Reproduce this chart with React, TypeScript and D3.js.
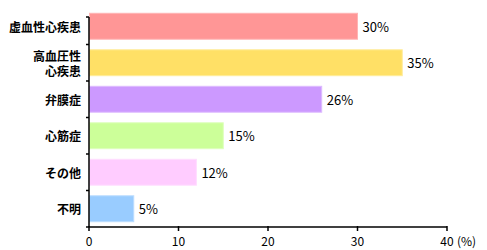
import React from "react";
import * as d3 from "d3";

const categories = ["虚血性心疾患", "高血圧性\n心疾患", "弁膜症", "心筋症", "その他", "不明"];
const values = [30, 35, 26, 15, 12, 5];
const colors = ["#FF9696", "#FFE066", "#CC99FF", "#CCFF99", "#FFCCFF", "#99CCFF"];
const strokes = ["#FFB4B4", "#FFEC99", "#DDBBFF", "#DDFFBB", "#FFDDFF", "#BBDDFF"];
const xTicks = [0, 10, 20, 30, 40];

export default function App() {
  const W = 487, H = 250;
  const x = d3.scaleLinear().domain([0, 40]).range([89, 447]);
  const y = d3.scaleBand<number>().domain(d3.range(categories.length)).range([8, 227]).paddingInner(0.29).paddingOuter(0.145);
  const step = y.step();
  const font = "'Noto Sans CJK JP', 'DejaVu Sans', sans-serif";
  const axisY = 227;
  const bounds = d3.range(1, categories.length).map((i) => y.range()[0] + step * i);
  return (
    <svg width={W} height={H} style={{ position: "absolute", left: 0, top: 0 }}>
      {values.map((v, i) => (
        <g key={i}>
          <rect x={x(0) + 0.5} y={y(i)!} width={x(v) - x(0) - 0.5} height={y.bandwidth()} fill={colors[i]} stroke={strokes[i]} strokeWidth={1} />
          <text x={x(v) + 5} y={y(i)! + y.bandwidth() / 2} dominantBaseline="central" fontFamily={font} fontSize={13} fill="#000">
            {v}%
          </text>
        </g>
      ))}
      {categories.map((c, i) => {
        const lines = c.split("\n");
        const cy = y(i)! + y.bandwidth() / 2;
        return (
          <g key={i}>
            {lines.map((l, j) => (
              <text key={j} textAnchor="end" fontFamily={font} fontSize={12} fontWeight="bold" fill="#000" x={81} y={cy + (j - (lines.length - 1) / 2) * 15.5} dominantBaseline="central">
                {l}
              </text>
            ))}
          </g>
        );
      })}
      <line x1={x(0)} x2={x(0)} y1={17} y2={axisY} stroke="#000" strokeWidth={1.5} />
      <line x1={x(0) - 3} x2={x(0)} y1={17} y2={17} stroke="#000" strokeWidth={1.5} />
      {bounds.map((b, i) => (
        <line key={i} x1={x(0) - 3} x2={x(0)} y1={b} y2={b} stroke="#000" strokeWidth={1.5} />
      ))}
      <line x1={x(0) - 3} x2={x(40)} y1={axisY} y2={axisY} stroke="#000" strokeWidth={1.5} />
      {xTicks.map((t) => (
        <g key={t}>
          <line x1={x(t)} x2={x(t)} y1={axisY - 1} y2={axisY + 4} stroke="#000" strokeWidth={1.5} />
          <text x={x(t)} y={240} textAnchor="middle" dominantBaseline="central" fontFamily={font} fontSize={12} fill="#000">
            {t}
          </text>
        </g>
      ))}
      <text x={x(40) + 10} y={240} dominantBaseline="central" fontFamily={font} fontSize={12} fill="#000">
        (%)
      </text>
    </svg>
  );
}
